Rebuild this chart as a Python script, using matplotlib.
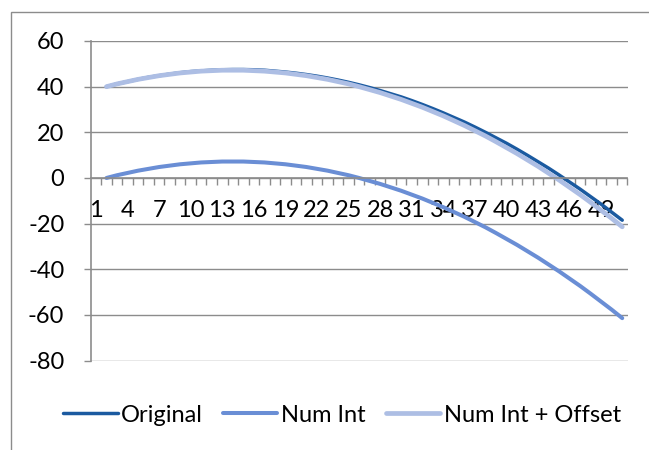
import numpy as np
import matplotlib.pyplot as plt
from matplotlib.patches import Rectangle
from matplotlib.ticker import FixedLocator

# categories 1..51, the first category has no values
categories = list(range(1, 52))
original = [None,
    40.0, 41.2, 42.2, 43.2, 44.1, 44.8, 45.5, 46.1, 46.6, 46.9,
    47.2, 47.4, 47.5, 47.5, 47.4, 47.2, 46.8, 46.4, 45.9, 45.3,
    44.6, 43.8, 42.9, 41.9, 40.8, 39.6, 38.3, 36.9, 35.5, 33.9,
    32.2, 30.4, 28.5, 26.5, 24.5, 22.3, 20.0, 17.6, 15.2, 12.6,
    9.9, 7.1, 4.3, 1.3, -1.8, -4.9, -8.2, -11.5, -15.0, -18.5]
num_int = [None,
    0.0, 1.2, 2.2, 3.2, 4.0, 4.8, 5.4, 6.0, 6.4, 6.8,
    7.0, 7.2, 7.2, 7.2, 7.0, 6.8, 6.4, 6.0, 5.4, 4.8,
    4.0, 3.2, 2.2, 1.2, 0.0, -1.3, -2.6, -4.1, -5.6, -7.3,
    -9.0, -10.9, -12.8, -14.9, -17.0, -19.3, -21.6, -24.1, -26.7, -29.3,
    -32.1, -34.9, -37.9, -40.9, -44.1, -47.3, -50.7, -54.2, -57.7, -61.4]
num_int_offset = [None,
    40.0, 41.2, 42.2, 43.2, 44.0, 44.8, 45.4, 46.0, 46.4, 46.8,
    47.0, 47.2, 47.2, 47.2, 47.0, 46.8, 46.4, 46.0, 45.4, 44.8,
    44.0, 43.2, 42.2, 41.2, 40.0, 38.7, 37.4, 35.9, 34.4, 32.7,
    31.0, 29.1, 27.2, 25.1, 23.0, 20.7, 18.4, 15.9, 13.3, 10.7,
    7.9, 5.1, 2.1, -0.9, -4.1, -7.3, -10.7, -14.2, -17.7, -21.4]
series_names = ['Original', 'Num Int', 'Num Int + Offset']
y_ticks = [-80, -60, -40, -20, 0, 20, 40, 60]
x_label_step = 3

plt.rcParams['font.family'] = ['Lato', 'DejaVu Sans']
plt.rcParams['axes.unicode_minus'] = False  # plain hyphen like Excel
grey = '#8c8c8c'
fs = 17

fig = plt.figure(figsize=(6.49, 4.5), dpi=100)
# chart border (cut off at right and bottom like the screenshot)
fig.patches.append(Rectangle((11 / 649, -0.1), 1.2, 1 - 12 / 450 + 0.1,
                             transform=fig.transFigure, fill=False,
                             edgecolor=grey, lw=1.0))

ax = fig.add_axes([90.7 / 649, 1 - 360.6 / 450, (627.5 - 90.7) / 649, (360.6 - 41) / 450])

x = np.array(categories, dtype=float)
def arr(v):
    return np.array([np.nan if a is None else a for a in v], dtype=float)

ax.plot(x, arr(original), color='#1b5aa0', lw=2.5, label=series_names[0], solid_capstyle='round')
ax.plot(x, arr(num_int), color='#6a8ed5', lw=2.9, label=series_names[1], solid_capstyle='round')
ax.plot(x, arr(num_int_offset), color='#adbee4', lw=3.4, label=series_names[2], solid_capstyle='round')

ax.set_xlim(0.5, 51.5)
ax.set_ylim(-80, 60)
ax.set_yticks(y_ticks)
ax.yaxis.grid(True, color=grey, lw=1.0)
ax.set_axisbelow(True)

for s in ['top', 'right']:
    ax.spines[s].set_visible(False)
ax.spines['left'].set_color(grey)
ax.spines['left'].set_linewidth(1.2)
ax.spines['bottom'].set_position(('data', 0))
ax.spines['bottom'].set_color(grey)
ax.spines['bottom'].set_linewidth(1.2)

lab_pos = categories[::x_label_step]
ax.set_xticks(lab_pos)
ax.set_xticklabels([str(c) for c in lab_pos])
ax.xaxis.set_minor_locator(FixedLocator(np.arange(1.5, 52, 1.0)))
ax.tick_params(axis='x', which='major', length=0, pad=16, labelsize=fs)
ax.tick_params(axis='x', which='minor', length=5, width=1.0, color=grey, direction='out')
ax.tick_params(axis='y', length=5, width=1.0, color=grey, pad=14, labelsize=fs)

fig.legend(loc='center', bbox_to_anchor=(0.527, 1 - 415 / 450), ncol=3, frameon=False,
           fontsize=fs, handlelength=2.3, handletextpad=0.15, columnspacing=0.85,
           borderpad=0)

fig.savefig('out.png', dpi=100)
